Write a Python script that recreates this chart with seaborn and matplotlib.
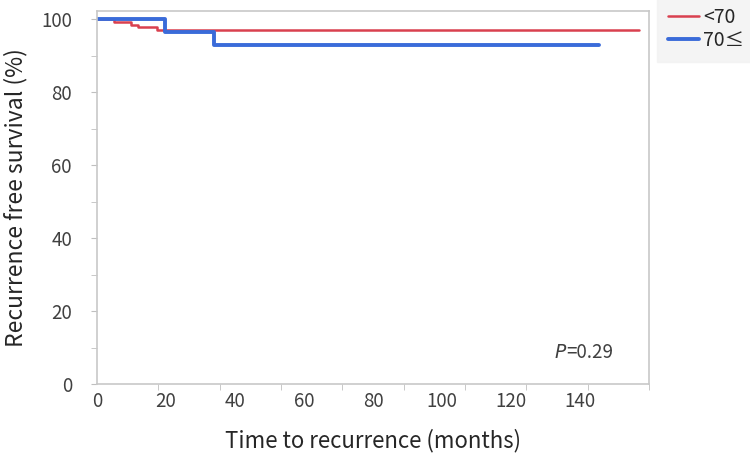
import numpy as np
import pandas as pd
import matplotlib
matplotlib.use("Agg")
import matplotlib.pyplot as plt
import seaborn as sns

# Kaplan-Meier step points
under70_time = [0, 5, 10, 12, 17.5, 157]
under70_surv = [100, 99.3, 98.4, 97.7, 97.0, 97.0]
over70_time = [0, 19.7, 33.9, 145.5]
over70_surv = [100, 96.4, 92.9, 92.9]

group_labels = ["<70", "70≤"]
group_colors = ["#d9404f", "#3a6bd9"]
x_ticks = [0, 20, 40, 60, 80, 100, 120, 140]
y_ticks = [0, 20, 40, 60, 80, 100]
p_value = "=0.29"


def generate_km_plot():
    df = pd.concat([
        pd.DataFrame({"time": under70_time, "surv": under70_surv, "group": group_labels[0]}),
        pd.DataFrame({"time": over70_time, "surv": over70_surv, "group": group_labels[1]}),
    ])

    sns.set_style("white")
    plt.rcParams["font.family"] = ["Noto Sans CJK JP", "DejaVu Sans"]

    fig = plt.figure(figsize=(7.5, 4.53), dpi=100)
    ax = fig.add_axes([0.1293, 0.1523, 0.736, 0.8234])

    sub = df[df.group == group_labels[0]]
    sns.lineplot(data=sub, x="time", y="surv", ax=ax, sort=False, drawstyle="steps-post",
                 color=group_colors[0], linewidth=1.8, label=group_labels[0])
    sub = df[df.group == group_labels[1]]
    sns.lineplot(data=sub, x="time", y="surv", ax=ax, sort=False, drawstyle="steps-post",
                 color=group_colors[1], linewidth=2.8, label=group_labels[1])

    ax.set_xlim(0, 160)
    ax.set_ylim(0, 102.2)
    ax.set_xticks(x_ticks)
    ax.set_xticks(np.linspace(0, 160, 10), minor=True)
    ax.set_yticks(y_ticks)
    ax.set_yticks(np.arange(10, 101, 20), minor=True)
    ax.tick_params(axis="x", which="major", length=0, labelsize=13.5, colors="#404040", pad=5)
    ax.tick_params(axis="y", which="major", length=4, labelsize=13.5, colors="#404040", pad=14)
    ax.tick_params(which="minor", length=4, color="#bfbfbf")
    ax.tick_params(axis="y", which="major", color="#bfbfbf")
    ax.xaxis.set_ticks_position("bottom")
    ax.yaxis.set_ticks_position("left")

    for s in ax.spines.values():
        s.set_color("#c8c8c8")
        s.set_linewidth(1.2)

    ax.set_xlabel("Time to recurrence (months)", fontsize=16, color="#262626", labelpad=12)
    ax.set_ylabel("Recurrence free survival (%)", fontsize=16.5, color="#262626", labelpad=10)

    # italic P followed by the value
    ax.text(136, 8.5, "P", fontsize=13.5, color="#404040", ha="right", va="center",
            style="italic", family="DejaVu Sans")
    ax.text(136, 8.5, p_value, fontsize=13.5, color="#404040", ha="left", va="center")

    leg = ax.legend(loc="upper left", bbox_to_anchor=(0.884, 0.995),
                    bbox_transform=fig.transFigure, frameon=True, fontsize=14,
                    handlelength=1.6, handletextpad=0.2, labelspacing=0.1,
                    borderpad=0.25, borderaxespad=0)
    leg.get_frame().set_facecolor("#f2f2f2")
    leg.get_frame().set_edgecolor("#f2f2f2")
    leg.get_frame().set_boxstyle("square")
    for t in leg.get_texts():
        t.set_color("#262626")

    fig.savefig("out.png", dpi=100)
    plt.close(fig)


if __name__ == "__main__":
    generate_km_plot()
